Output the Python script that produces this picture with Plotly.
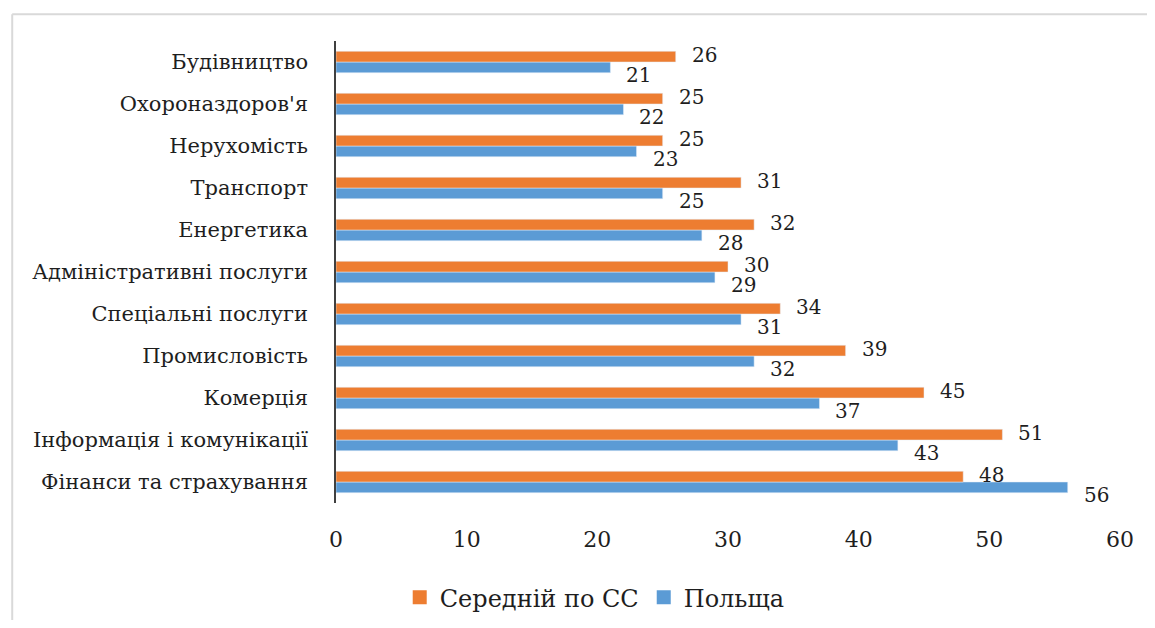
import plotly.graph_objects as go

# categories from bottom to top
categories = ["Фінанси та страхування", "Інформація і комунікації", "Комерція",
              "Промисловість", "Спеціальні послуги", "Адміністративні послуги",
              "Енергетика", "Транспорт", "Нерухомість", "Охороназдоров'я", "Будівництво"]
eu_avg = [48, 51, 45, 39, 34, 30, 32, 31, 25, 25, 26]
poland = [56, 43, 37, 32, 31, 29, 28, 25, 23, 22, 21]
x_ticks = [0, 10, 20, 30, 40, 50, 60]

FONT = "DejaVu Serif"
TXT = "#1e1e1e"
ORANGE = "#ED7D31"
BLUE = "#5B9BD5"

fig = go.Figure()
# blue first so orange sits above it inside each group
fig.add_trace(go.Bar(name="Польща", y=categories, x=poland, orientation="h",
                     marker_color=BLUE, showlegend=False))
fig.add_trace(go.Bar(name="Середній по СС", y=categories, x=eu_avg, orientation="h",
                     marker_color=ORANGE, showlegend=False))
# legend entries with square swatches like the original
fig.add_trace(go.Scatter(name="Середній по СС", x=[None], y=[None], mode="markers",
                         marker=dict(symbol="square", size=14, color=ORANGE)))
fig.add_trace(go.Scatter(name="Польща", x=[None], y=[None], mode="markers",
                         marker=dict(symbol="square", size=14, color=BLUE)))

# data labels, set off a little to the right like in the original
for cat, v in zip(categories, eu_avg):
    fig.add_annotation(x=v, y=cat, text=str(v), showarrow=False, xanchor="left",
                       xshift=14, yshift=7, font=dict(family=FONT, size=20, color=TXT))
for cat, v in zip(categories, poland):
    fig.add_annotation(x=v, y=cat, text=str(v), showarrow=False, xanchor="left",
                       xshift=14, yshift=-13, font=dict(family=FONT, size=20, color=TXT))

# light grey frame of the chart area
fig.add_shape(type="line", xref="paper", yref="paper", x0=-0.413, x1=1.1, y0=1.058, y1=1.058,
              line=dict(color="#d9d9d9", width=2))
fig.add_shape(type="line", xref="paper", yref="paper", x0=-0.413, x1=-0.413, y0=1.058, y1=-0.3,
              line=dict(color="#d9d9d9", width=2))

fig.update_layout(
    width=1139, height=612,
    margin=dict(l=328, r=27, t=33, b=117, autoexpand=False),
    paper_bgcolor="white", plot_bgcolor="white",
    barmode="group", bargap=0.49, bargroupgap=0,
    font=dict(family=FONT, size=22, color=TXT),
    showlegend=True,
    legend=dict(orientation="h", x=0.33, xanchor="center", y=-0.205, yanchor="middle",
                font=dict(family=FONT, size=24, color=TXT), itemwidth=30),
    xaxis=dict(range=[0, 60], tickvals=x_ticks, showgrid=False, zeroline=False,
               showline=False, ticks="", ticklabelstandoff=21,
               tickfont=dict(family=FONT, size=22, color=TXT)),
    yaxis=dict(range=[-0.5, len(categories) - 0.5], showgrid=False, zeroline=False,
               showline=True, linecolor="#404040",
               linewidth=1.5, ticks="", ticklabelstandoff=22,
               tickfont=dict(family=FONT, size=21, color=TXT)),
)

fig.write_html("out.html")
